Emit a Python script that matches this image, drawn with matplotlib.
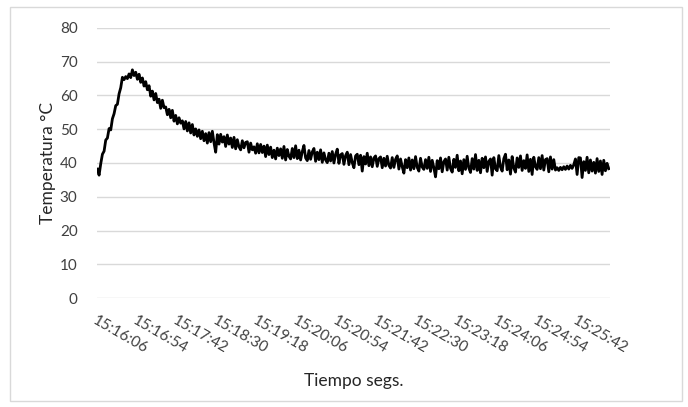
import matplotlib
matplotlib.use("Agg")
from matplotlib import pyplot as plt
from matplotlib.patches import Rectangle
import numpy as np

plt.rcParams['font.family'] = ['Lato', 'DejaVu Sans']

# Lecturas cada 2 segundos desde 15:16:06
paso = 2
temperatura = [
    38.2, 36.4, 39.8, 42.6, 43.5, 46.8, 47.4, 50.2, 49.8, 53.1,
    54.6, 57.0, 57.4, 60.5, 62.3, 65.4, 64.7, 65.6, 65.0, 66.4,
    65.3, 67.6, 65.9, 66.9, 64.8, 66.3, 63.9, 65.2, 62.8, 64.1,
    61.7, 62.9, 59.8, 61.3, 58.7, 60.6, 57.9, 58.9, 56.2, 58.6,
    56.4, 56.6, 54.3, 55.9, 53.4, 55.6, 52.4, 54.1, 51.6, 53.4,
    51.8, 52.5, 50.1, 52.3, 49.5, 51.9, 48.9, 51.4, 48.3, 50.1,
    47.9, 49.8, 47.2, 49.4, 46.6, 48.7, 45.9, 49.0, 46.3, 49.4,
    46.0, 43.2, 48.4, 45.6, 48.5, 46.2, 47.8, 44.9, 48.3, 45.6,
    47.4, 44.6, 47.6, 44.2, 46.9, 44.8, 43.9, 46.6, 44.5, 46.1,
    46.3, 43.2, 45.9, 43.9, 44.8, 42.9, 45.7, 43.0, 45.5, 43.1,
    45.0, 41.9, 45.3, 42.5, 44.7, 41.6, 43.8, 41.2, 44.4, 42.2,
    44.2, 41.4, 44.9, 40.9, 44.0, 42.0, 41.2, 44.3, 41.6, 45.1,
    41.3, 43.8, 40.9, 43.4, 45.2, 41.5, 40.7, 43.7, 41.1, 43.3,
    44.3, 40.5, 43.2, 41.0, 43.9, 40.2, 43.0, 40.9, 40.1, 42.9,
    40.6, 43.4, 40.0, 42.6, 44.1, 39.9, 42.4, 42.8, 39.6, 42.2,
    43.2, 39.5, 42.5, 40.1, 38.6, 42.1, 42.6, 39.5, 42.3, 37.6,
    41.9, 39.7, 42.9, 39.2, 41.8, 38.9, 41.5, 42.1, 39.0, 41.3,
    41.8, 38.6, 41.4, 39.1, 42.0, 39.3, 38.5, 41.6, 38.7, 41.1,
    42.1, 38.2, 41.2, 38.9, 37.0, 41.0, 38.6, 41.5, 37.9, 40.9,
    38.3, 41.9, 38.7, 37.6, 41.4, 38.8, 38.1, 41.0, 38.4, 41.7,
    37.5, 40.8, 38.6, 35.9, 40.7, 38.3, 41.5, 37.4, 40.4, 41.2,
    37.9, 41.7, 38.4, 37.3, 41.1, 38.7, 42.3, 37.7, 40.6, 36.8,
    41.0, 38.1, 42.0, 38.5, 37.2, 41.3, 38.2, 42.5, 37.8, 40.8,
    37.1, 41.4, 38.6, 41.8, 37.5, 40.5, 41.2, 36.4, 41.6, 38.3,
    37.7, 42.2, 38.8, 37.6, 41.3, 42.6, 38.0, 40.9, 36.7, 41.9,
    38.5, 37.3, 41.5, 38.7, 42.1, 37.8, 40.7, 38.4, 42.4, 37.5,
    41.1, 36.6, 41.7, 38.9, 38.1, 41.6, 38.3, 42.2, 37.9, 41.0,
    41.3, 37.4, 41.8, 38.2, 41.0, 37.9, 38.6, 37.8, 38.7, 38.0,
    38.9, 38.1, 39.1, 38.2, 39.3, 38.4, 39.5, 41.2, 36.6, 41.6,
    41.5, 35.7, 40.4, 37.8, 41.7, 37.1, 40.9, 37.6, 40.2, 37.0,
    41.3, 37.5, 40.6, 36.6, 40.8, 37.7, 39.9, 38.3,
]
segundos = np.arange(len(temperatura)) * paso

etiquetas = ['15:16:06', '15:16:54', '15:17:42', '15:18:30', '15:19:18',
             '15:20:06', '15:20:54', '15:21:42', '15:22:30', '15:23:18',
             '15:24:06', '15:24:54', '15:25:42']
pos_etiquetas = np.arange(len(etiquetas)) * 48

fig = plt.figure(figsize=(6.88, 4.07), dpi=100)
ax = fig.add_axes([97 / 688, 1 - 298 / 407, 513 / 688, 270 / 407])

# marco del grafico
fig.patches.append(Rectangle((10 / 688, 1 - 401 / 407), 672 / 688, 394 / 407,
                             transform=fig.transFigure, fill=False,
                             edgecolor='#d9d9d9', lw=1))

ax.plot(segundos, temperatura, color='black', lw=2.0)

ax.set_ylim(0, 80)
ax.set_xlim(-0.5, 615.5)
ax.set_yticks(range(0, 81, 10))
ax.yaxis.grid(True, color='#d9d9d9', lw=1)
ax.set_axisbelow(True)
for s in ax.spines.values():
    s.set_visible(False)
ax.tick_params(axis='both', length=0, labelsize=11, colors='#404040')
ax.tick_params(axis='y', pad=14)

ax.set_xticks(pos_etiquetas)
ax.set_xticklabels(etiquetas, rotation=-30, ha='left', va='top',
                   rotation_mode='anchor')
ax.tick_params(axis='x', pad=11)

ax.set_ylabel('Temperatura °C', fontsize=12.5, color='#262626', labelpad=3)
ax.set_xlabel('Tiempo segs.', fontsize=12.5, color='#262626', labelpad=12)

fig.savefig('out.png', dpi=100)
